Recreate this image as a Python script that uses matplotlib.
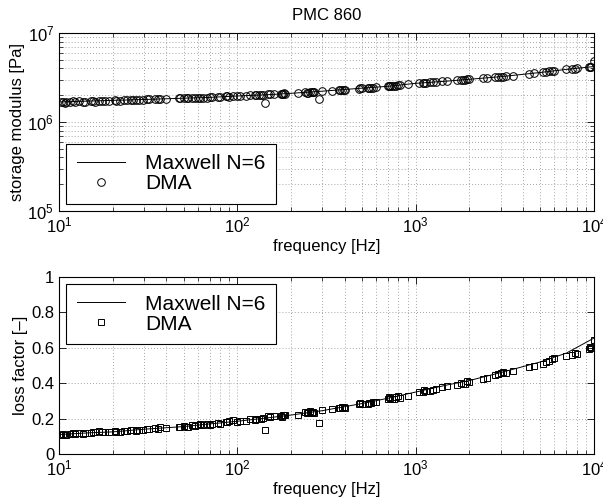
import numpy as np
import matplotlib
matplotlib.use("Agg")
import matplotlib.pyplot as plt

plt.rcParams['font.family'] = ['Liberation Sans', 'DejaVu Sans']
plt.rcParams['font.size'] = 12

freq = [10.2, 10.8, 11.5, 12.3, 13.0, 13.6, 15.2, 16.0, 16.8, 17.5,
        19.0, 20.5, 22.0, 24.0, 25.5, 27.0, 29.5, 32.0, 34.5, 37.0,
        40, 47, 50, 53, 56, 60, 64, 68, 72, 78,
        86, 90, 100, 104, 118, 125, 132, 140, 143, 152,
        160, 175, 180, 185, 220, 240, 250, 262, 270, 287,
        300, 340, 370, 385, 400, 480, 500, 540, 560, 600,
        700, 720, 740, 780, 820, 900, 1050, 1100, 1150, 1200,
        1300, 1400, 1500, 1700, 1800, 1900, 2000, 2400, 2500, 2800,
        3000, 3200, 3500, 4300, 4600, 5200, 5600, 6000, 7000, 7500,
        8000, 9400, 9600, 10000,
        10.5, 11.0, 12.0, 14.0, 15.6, 18.0, 21.0, 23.0, 26.0, 28.0,
        31.0, 36.0, 48.0, 52.0, 58.0, 62.0, 70.0, 80.0, 88.0, 95.0,
        112, 128, 136, 148, 178, 182, 245, 255, 265, 375,
        395, 490, 550, 580, 710, 760, 800, 1120, 1250, 1850,
        1950, 2900, 3100, 5400, 5800, 7800, 9500]

# storage modulus in MPa
storage = [1.66, 1.64, 1.69, 1.67, 1.70, 1.68, 1.71, 1.69, 1.73, 1.71,
           1.72, 1.75, 1.74, 1.77, 1.75, 1.78, 1.77, 1.80, 1.79, 1.81,
           1.82, 1.84, 1.86, 1.84, 1.87, 1.86, 1.88, 1.87, 1.90, 1.91,
           1.94, 1.93, 1.96, 1.95, 1.99, 2.00, 2.01, 2.03, 1.65, 2.04,
           2.05, 2.08, 2.09, 2.08, 2.12, 2.15, 2.14, 2.17, 2.16, 1.80,
           2.22, 2.25, 2.28, 2.27, 2.31, 2.37, 2.39, 2.41, 2.42, 2.46,
           2.52, 2.54, 2.55, 2.57, 2.60, 2.64, 2.74, 2.76, 2.75, 2.79,
           2.82, 2.86, 2.88, 2.93, 2.96, 2.99, 3.02, 3.10, 3.13, 3.19,
           3.23, 3.26, 3.32, 3.48, 3.53, 3.62, 3.70, 3.75, 3.90, 3.94,
           4.00, 4.15, 4.20, 4.85,
           1.68, 1.66, 1.70, 1.69, 1.72, 1.73, 1.74, 1.76, 1.78, 1.76,
           1.79, 1.80, 1.85, 1.85, 1.85, 1.88, 1.89, 1.90, 1.95, 1.94,
           1.98, 2.01, 2.02, 2.04, 2.07, 2.10, 2.14, 2.17, 2.15, 2.29,
           2.28, 2.38, 2.43, 2.44, 2.53, 2.56, 2.58, 2.77, 2.81, 2.97,
           3.01, 3.21, 3.24, 3.66, 3.72, 3.98, 4.18]

loss = [0.105, 0.110, 0.115, 0.112, 0.118, 0.114, 0.120, 0.125, 0.128, 0.122,
        0.126, 0.128, 0.124, 0.132, 0.135, 0.130, 0.138, 0.140, 0.145, 0.150,
        0.145, 0.152, 0.158, 0.155, 0.162, 0.165, 0.162, 0.170, 0.168, 0.175,
        0.180, 0.185, 0.182, 0.188, 0.195, 0.192, 0.200, 0.205, 0.136, 0.210,
        0.212, 0.215, 0.218, 0.220, 0.222, 0.235, 0.238, 0.232, 0.230, 0.177,
        0.248, 0.255, 0.262, 0.265, 0.260, 0.280, 0.285, 0.282, 0.288, 0.295,
        0.310, 0.318, 0.308, 0.322, 0.318, 0.330, 0.350, 0.352, 0.358, 0.355,
        0.370, 0.378, 0.386, 0.392, 0.400, 0.398, 0.405, 0.425, 0.430, 0.445,
        0.455, 0.460, 0.470, 0.490, 0.500, 0.510, 0.525, 0.545, 0.555, 0.560,
        0.565, 0.595, 0.600, 0.645,
        0.112, 0.108, 0.118, 0.116, 0.124, 0.127, 0.122, 0.130, 0.133, 0.137,
        0.140, 0.143, 0.155, 0.150, 0.158, 0.168, 0.165, 0.172, 0.178, 0.190,
        0.188, 0.198, 0.200, 0.215, 0.210, 0.220, 0.232, 0.245, 0.240, 0.258,
        0.268, 0.288, 0.290, 0.292, 0.320, 0.312, 0.325, 0.360, 0.362, 0.395,
        0.410, 0.450, 0.465, 0.520, 0.535, 0.570, 0.605]

# Maxwell model fit (N=6)
fit_freq = [10, 15, 20, 30, 50, 70, 100, 150, 200, 300, 500, 700,
            1000, 1500, 2000, 3000, 5000, 7000, 10000]
fit_storage = [1.68, 1.72, 1.75, 1.79, 1.85, 1.89, 1.96, 2.03, 2.10, 2.22, 2.40, 2.52,
               2.72, 2.88, 3.02, 3.23, 3.60, 3.90, 4.20]
fit_loss = [0.110, 0.120, 0.125, 0.140, 0.155, 0.170, 0.185, 0.205, 0.220, 0.245, 0.285, 0.315,
            0.350, 0.390, 0.415, 0.460, 0.520, 0.570, 0.655]

storage_pa = np.array(storage) * 1e6
fit_storage_pa = np.array(fit_storage) * 1e6

fig = plt.figure(figsize=(6.03, 5.04), dpi=100)
ax1 = fig.add_axes([59/603, 1 - 211/504, 535/603, 178/504])
ax2 = fig.add_axes([59/603, 1 - 454/504, 535/603, 177/504])

grid_kw = dict(color='0.45', linestyle=(0, (1, 3)), linewidth=0.55)
leg_kw = dict(fontsize=15, numpoints=1, handlelength=2.3, handletextpad=1.0,
              borderpad=0.5, labelspacing=0.05, fancybox=False,
              edgecolor='black', framealpha=1, borderaxespad=0.35)


def style(ax):
    ax.tick_params(which='both', direction='in', top=True, right=True, labelsize=12)
    ax.tick_params(which='major', length=5, width=0.6)
    ax.tick_params(which='minor', length=3, width=0.5)
    for s in ax.spines.values():
        s.set_linewidth(0.8)


# storage modulus
ax1.plot(fit_freq, fit_storage_pa, '-', color='black', linewidth=0.7, label='Maxwell N=6')
ax1.plot(freq, storage_pa, 'o', mfc='none', mec='black', ms=5.5, mew=0.7, label='DMA')
ax1.set_xscale('log')
ax1.set_yscale('log')
ax1.set_xlim(10, 1e4)
ax1.set_ylim(1e5, 1e7)
ax1.grid(True, which='both', **grid_kw)
ax1.set_xlabel('frequency [Hz]', fontsize=12, labelpad=2)
ax1.set_ylabel('storage modulus [Pa]', fontsize=12, labelpad=2)
ax1.set_title('PMC 860', fontsize=12, pad=9)
style(ax1)
leg1 = ax1.legend(loc='lower left', **leg_kw)
leg1.get_frame().set_linewidth(0.8)

# loss factor
ax2.plot(fit_freq, fit_loss, '-', color='black', linewidth=0.7, label='Maxwell N=6')
ax2.plot(freq, loss, 's', mfc='none', mec='black', ms=5, mew=0.7, label='DMA')
ax2.set_xscale('log')
ax2.set_xlim(10, 1e4)
ax2.set_ylim(0, 1)
ax2.set_yticks([0, 0.2, 0.4, 0.6, 0.8, 1])
ax2.set_yticklabels(['0', '0.2', '0.4', '0.6', '0.8', '1'])
ax2.grid(True, which='both', axis='x', **grid_kw)
ax2.grid(True, which='major', axis='y', **grid_kw)
ax2.set_xlabel('frequency [Hz]', fontsize=12, labelpad=2)
ax2.set_ylabel('loss factor [\u2013]', fontsize=12, labelpad=2)
style(ax2)
leg2 = ax2.legend(loc='upper left', **leg_kw)
leg2.get_frame().set_linewidth(0.8)

fig.savefig('out.png', dpi=100)
